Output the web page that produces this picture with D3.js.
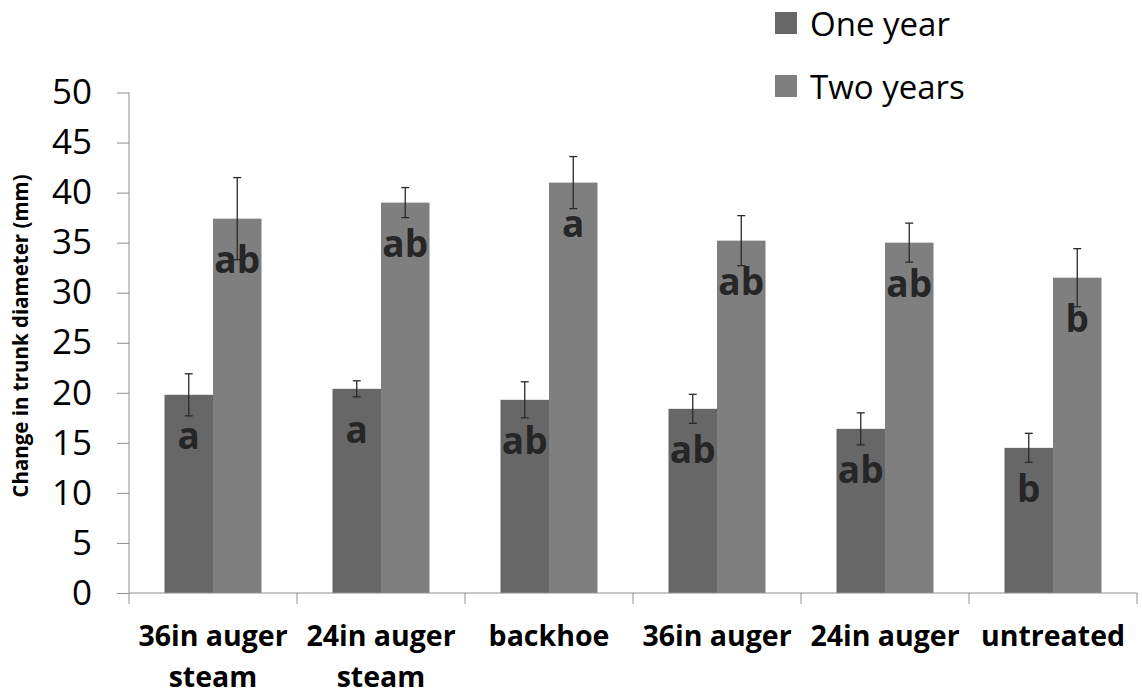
<!DOCTYPE html>
<html>
<head>
<meta charset="utf-8">
<script src="https://cdn.jsdelivr.net/npm/d3@7"></script>
<style>
  html, body { margin: 0; padding: 0; background: #fff; }
  svg { display: block; }
  text { font-family: "Open Sans", "Noto Sans", sans-serif; }
</style>
</head>
<body>
<svg id="chart" width="1142" height="696"></svg>
<script>
// Treatments along the x axis (label lines)
const categories = [
  ["36in auger", "steam"],
  ["24in auger", "steam"],
  ["backhoe"],
  ["36in auger"],
  ["24in auger"],
  ["untreated"]
];
const seriesNames = ["One year", "Two years"];

// Mean change in trunk diameter (mm) and error (±)
const oneYear      = [19.8, 20.4, 19.3, 18.4, 16.4, 14.5];
const oneYearErr   = [2.1, 0.8, 1.8, 1.45, 1.6, 1.45];
const twoYears     = [37.4, 39.0, 41.0, 35.2, 35.0, 31.5];
const twoYearsErr  = [4.1, 1.5, 2.6, 2.5, 1.95, 2.9];

// Significance letters
const oneYearLetters  = ["a", "a", "ab", "ab", "ab", "b"];
const twoYearsLetters = ["ab", "ab", "a", "ab", "ab", "b"];

const yTicks = [0, 5, 10, 15, 20, 25, 30, 35, 40, 45, 50];

const colors = { "One year": "#676767", "Two years": "#7f7f7f" };
const axisColor = "#8e8e8e";

const svg = d3.select("#chart");
const margin = { left: 129, top: 92.5 };
const plotRight = 1137;
const plotBottom = 593;

const keys = categories.map((c, i) => "c" + i);

const x0 = d3.scaleBand().domain(keys).range([margin.left, plotRight]).padding(0);
const x1 = d3.scaleBand().domain(seriesNames).range([0, x0.bandwidth()])
  .paddingInner(0).paddingOuter(0.732);
const y = d3.scaleLinear().domain([0, 50]).range([plotBottom, margin.top]);

const rows = keys.map((k, i) => ({
  key: k,
  bars: [
    { s: "One year", v: oneYear[i], e: oneYearErr[i], l: oneYearLetters[i] },
    { s: "Two years", v: twoYears[i], e: twoYearsErr[i], l: twoYearsLetters[i] }
  ]
}));

// Bars
const groups = svg.append("g").selectAll("g").data(rows).join("g")
  .attr("transform", d => `translate(${x0(d.key)},0)`);

groups.selectAll("rect").data(d => d.bars).join("rect")
  .attr("x", d => x1(d.s))
  .attr("y", d => y(d.v))
  .attr("width", x1.bandwidth())
  .attr("height", d => y(0) - y(d.v))
  .attr("fill", d => colors[d.s]);

// Significance letters just inside the bar top
groups.selectAll("text.sig").data(d => d.bars).join("text")
  .attr("class", "sig")
  .attr("x", d => x1(d.s) + x1.bandwidth() / 2)
  .attr("y", d => y(d.v) + 54)
  .attr("text-anchor", "middle")
  .attr("font-weight", 700)
  .attr("font-size", 37)
  .attr("fill", "#262626")
  .text(d => d.l);

// Error bars
const cap = 4;
groups.selectAll("g.err").data(d => d.bars).join("g")
  .attr("class", "err")
  .each(function(d) {
    const g = d3.select(this);
    const cx = x1(d.s) + x1.bandwidth() / 2;
    const yt = y(d.v + d.e), yb = y(d.v - d.e);
    g.append("line").attr("x1", cx).attr("x2", cx).attr("y1", yt).attr("y2", yb);
    g.append("line").attr("x1", cx - cap).attr("x2", cx + cap).attr("y1", yt).attr("y2", yt);
    g.append("line").attr("x1", cx - cap).attr("x2", cx + cap).attr("y1", yb).attr("y2", yb);
  })
  .selectAll("line")
  .attr("stroke", "#2a2a2a")
  .attr("stroke-width", 1.3);

// Y axis
const yAxis = d3.axisLeft(y).tickValues(yTicks).tickSize(12).tickPadding(25);
const gy = svg.append("g").attr("transform", `translate(${margin.left},0)`).call(yAxis);
gy.select(".domain").attr("stroke", axisColor).attr("d", `M0,${y(50)}V${y(0)}`);
gy.selectAll(".tick line").attr("stroke", axisColor);
gy.selectAll(".tick text")
  .attr("font-family", "'Open Sans', sans-serif")
  .attr("font-size", 35)
  .attr("fill", "#000");

// X axis: line with ticks at band edges
const gx = svg.append("g");
gx.append("line")
  .attr("x1", margin.left).attr("x2", plotRight)
  .attr("y1", plotBottom).attr("y2", plotBottom)
  .attr("stroke", axisColor);
const edges = keys.map(k => x0(k)).concat([x0(keys[keys.length - 1]) + x0.bandwidth()]);
gx.selectAll("line.edge").data(edges).join("line")
  .attr("class", "edge")
  .attr("x1", d => d).attr("x2", d => d)
  .attr("y1", plotBottom).attr("y2", plotBottom + 11)
  .attr("stroke", axisColor);

// Category labels
const labels = gx.selectAll("text.cat").data(rows).join("text")
  .attr("class", "cat")
  .attr("x", d => x0(d.key) + x0.bandwidth() / 2)
  .attr("y", 646)
  .attr("text-anchor", "middle")
  .attr("font-weight", 700)
  .attr("font-size", 28.5)
  .attr("fill", "#000");
labels.selectAll("tspan").data((d, i) => categories[i]).join("tspan")
  .attr("x", function() { return d3.select(this.parentNode).attr("x"); })
  .attr("dy", (d, i) => i === 0 ? 0 : 41)
  .text(d => d);

// Y axis title
svg.append("text")
  .attr("transform", `translate(28,336) rotate(-90)`)
  .attr("text-anchor", "middle")
  .attr("font-weight", 700)
  .attr("font-size", 20.5)
  .attr("fill", "#000")
  .text("Change in trunk diameter (mm)");

// Legend
const legend = svg.append("g").selectAll("g").data(seriesNames).join("g")
  .attr("transform", (d, i) => `translate(775,${12 + i * 63})`);
legend.append("rect")
  .attr("width", 22).attr("height", 22)
  .attr("fill", d => colors[d]);
legend.append("text")
  .attr("x", 35).attr("y", 24)
  .attr("font-size", 33)
  .attr("fill", "#000")
  .text(d => d);
</script>
</body>
</html>
